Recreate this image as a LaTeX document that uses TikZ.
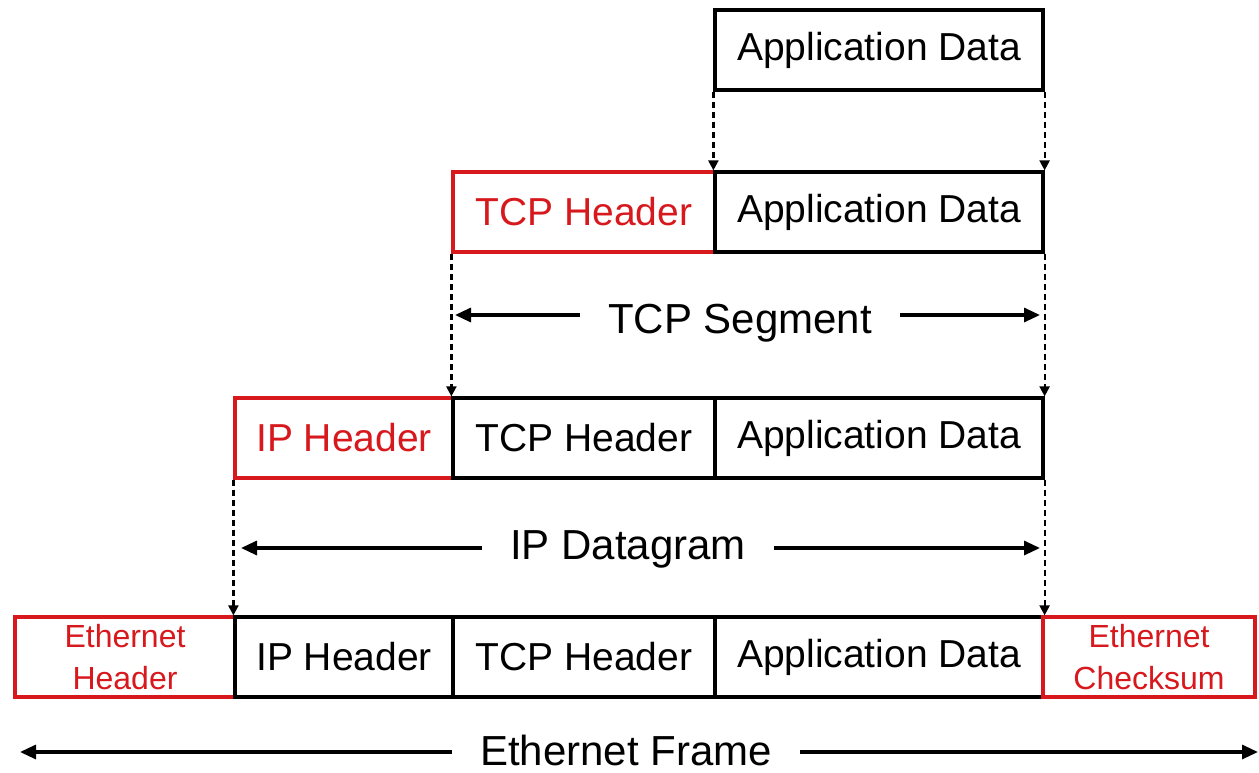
\documentclass[tikz,border=0pt]{standalone}
\usepackage{fontspec}
\setmainfont{Liberation Sans}
\usetikzlibrary{arrows.meta}
\definecolor{hdrred}{RGB}{215,25,30}
\begin{document}
\begin{tikzpicture}[x=1pt,y=-1pt,
  cell/.style={draw=black,line width=3.2pt,minimum height=80pt,inner sep=0pt,
    font=\fontsize{39}{42}\selectfont,fill=white},
  redcell/.style={cell,draw=hdrred,text=hdrred},
  ethcell/.style={redcell,font=\fontsize{32}{42}\selectfont,align=center},
  drop/.style={line width=2.2pt,dash pattern=on 6pt off 4pt,-{Triangle[length=10pt,width=10pt]}},
  spanarrow/.style={line width=3.2pt,-{Triangle[length=16pt,width=14pt]}},
  spanlabel/.style={font=\fontsize{42}{44}\selectfont,inner xsep=28pt,inner ysep=0pt,anchor=base}
]
\fill[white] (0,0) rectangle (1259,772);
\useasboundingbox (0,0) rectangle (1259,772);

% row 1
\node[cell,minimum width=328pt] (app1) at (879,50) {Application Data};
% row 2
\node[redcell,minimum width=262pt] (tcph2) at (584,212) {TCP Header};
\node[cell,minimum width=328pt] (app2) at (879,212) {Application Data};
% row 3
\node[redcell,minimum width=218pt] (iph3) at (344,438) {IP Header};
\node[cell,minimum width=262pt] (tcph3) at (584,438) {TCP Header};
\node[cell,minimum width=328pt] (app3) at (879,438) {Application Data};
% row 4
\node[ethcell,minimum width=220pt] (eth4) at (125,657) {Ethernet\\Header};
\node[cell,minimum width=218pt] (iph4) at (344,657) {IP Header};
\node[cell,minimum width=262pt] (tcph4) at (584,657) {TCP Header};
\node[cell,minimum width=328pt] (app4) at (879,657) {Application Data};
\node[ethcell,minimum width=212pt] (chk4) at (1149,657) {Ethernet\\Checksum};

% dashed drops
\draw[drop] (app1.south west) -- (app2.north west);
\draw[drop] (app1.south east) -- (app2.north east);
\draw[drop] (tcph2.south west) -- (tcph3.north west);
\draw[drop] (app2.south east) -- (app3.north east);
\draw[drop] (iph3.south west) -- (iph4.north west);
\draw[drop] (app3.south east) -- (app4.north east);

% spans
\coordinate (segL) at (455,315);
\coordinate (segR) at (1040,315);
\node[spanlabel] (seglab) at (740,333) {TCP Segment};
\draw[spanarrow] (seglab.west |- segL) -- (segL);
\draw[spanarrow] (seglab.east |- segR) -- (segR);

\coordinate (dgL) at (241,548);
\coordinate (dgR) at (1040,548);
\node[spanlabel] (dglab) at (628,559) {IP Datagram};
\draw[spanarrow] (dglab.west |- dgL) -- (dgL);
\draw[spanarrow] (dglab.east |- dgR) -- (dgR);

\coordinate (frL) at (20,752);
\coordinate (frR) at (1258,752);
\node[spanlabel] (frlab) at (626,765) {Ethernet Frame};
\draw[spanarrow] (frlab.west |- frL) -- (frL);
\draw[spanarrow] (frlab.east |- frR) -- (frR);
\end{tikzpicture}
\end{document}
